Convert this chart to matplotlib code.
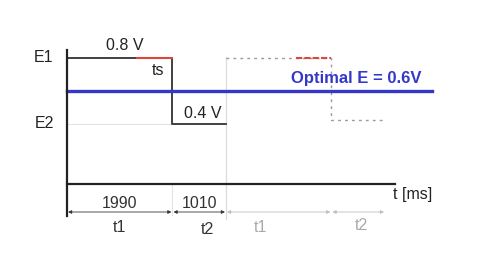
import matplotlib
matplotlib.use('Agg')
import matplotlib.pyplot as plt

# timing of one cycle (ms) and the two voltage levels
t1 = 1990
t2 = 1010
ts_start = 1320          # where the red "ts" part of the high phase starts
v_high = 0.8
v_low = 0.4
v_opt = 0.6
cycle_labels = ['1990', '1010']
level_labels = ['E1', 'E2']

plt.rcParams['font.family'] = ['Liberation Sans', 'DejaVu Sans']

fig = plt.figure(figsize=(5.04, 2.58), dpi=100)
ax = fig.add_axes([0, 0, 1, 1])
ax.set_axis_off()

# scale: 159 px for one 3000 ms cycle, 165 px per volt
px_t = 159 / (t1 + t2)
px_v = 165.0
ax.set_xlim(-67 / px_t, (504 - 67) / px_t)
ax.set_ylim(v_low - 134 / px_v, v_high + 58 / px_v)

T = t1 + t2
v_axis = v_low - 60 / px_v
v_arrow = v_low - 88 / px_v
grey = '#bdbdbd'
red = '#e0453a'
blue = '#3438c8'
fs = 11.5

# first cycle (solid)
ax.plot([0, t1], [v_low, v_low], color='#e3e3e3', lw=0.8, zorder=1)
ax.plot([t1, t1], [v_axis, v_arrow - 0.02], color='#e3e3e3', lw=0.8, zorder=1)
ax.plot([T, T], [v_arrow - 0.04, v_high + 0.006], color='#dcdcdc', lw=0.9, zorder=1)
ax.plot([0, t1, t1, T], [v_high, v_high, v_low, v_low], color='#333333', lw=1.3, zorder=3)
ax.plot([ts_start, t1], [v_high, v_high], color=red, lw=1.5, zorder=4)

# second cycle (dotted)
ax.plot([T, T + t1, T + t1, 2 * T], [v_high, v_high, v_low + 0.024, v_low + 0.024],
        color='#9a9a9a', lw=1.0, ls=(0, (2, 3)), zorder=2)
ax.plot([T + ts_start, T + t1], [v_high, v_high], color=red, lw=1.5,
        ls=(0, (3, 1)), zorder=4)

# optimal level
ax.plot([0, (432 - 67) / px_t], [v_opt, v_opt], color=blue, lw=2.4, zorder=5)
ax.text((356 - 67) / px_t, v_opt + 13 / px_v, 'Optimal E = %.1fV' % v_opt,
        color=blue, fontsize=12, fontweight='bold', ha='center', va='center')

# axes
ax.plot([0, 0], [v_low - 92 / px_v, v_high + 8 / px_v], color='#222222', lw=1.6, zorder=6)
ax.plot([0, (395 - 67) / px_t], [v_axis, v_axis], color='#222222', lw=1.6, zorder=6)
ax.text((413 - 67) / px_t, v_axis - 10 / px_v, 't [ms]', fontsize=fs,
        ha='center', va='center', color='#222222')

# level labels
ax.text(-23 / px_t, v_high + 1 / px_v, level_labels[0], fontsize=fs, ha='center', va='center', color='#222222')
ax.text(-23 / px_t, v_low + 1 / px_v, level_labels[1], fontsize=fs, ha='center', va='center', color='#222222')
ax.text((125 - 67) / px_t, v_high + 13 / px_v, '%.1f V' % v_high, fontsize=fs,
        ha='center', va='center', color='#222222')
ax.text((158 - 67) / px_t, v_high - 12 / px_v, 'ts', fontsize=fs,
        ha='center', va='center', color='#222222')
ax.text((203 - 67) / px_t, v_low + 11 / px_v, '%.1f V' % v_low, fontsize=fs,
        ha='center', va='center', color='#222222')

# duration arrows
segs = [(0, t1, '#333333'), (t1, T, '#333333'), (T, T + t1, grey), (T + t1, 2 * T, grey)]
for a, b, c in segs:
    ax.annotate('', xy=(b - 20, v_arrow), xytext=(a + 20, v_arrow),
                arrowprops=dict(arrowstyle='<|-|>', color=c, lw=0.6,
                                mutation_scale=5, shrinkA=0, shrinkB=0))

ax.text(t1 / 2, v_arrow + 9 / px_v, cycle_labels[0], fontsize=fs, ha='center', va='center', color='#333333')
ax.text(t1 + t2 / 2, v_arrow + 9 / px_v, cycle_labels[1], fontsize=fs, ha='center', va='center', color='#333333')
ax.text(t1 / 2, v_arrow - 15 / px_v, 't1', fontsize=fs, ha='center', va='center', color='#333333')
ax.text((207 - 67) / px_t, v_arrow - 18 / px_v, 't2', fontsize=fs, ha='center', va='center', color='#333333')
ax.text((260 - 67) / px_t, v_arrow - 15 / px_v, 't1', fontsize=fs, ha='center', va='center', color='#aaaaaa')
ax.text((361 - 67) / px_t, v_arrow - 13 / px_v, 't2', fontsize=fs, ha='center', va='center', color='#aaaaaa')

fig.savefig('out.png', dpi=100)
